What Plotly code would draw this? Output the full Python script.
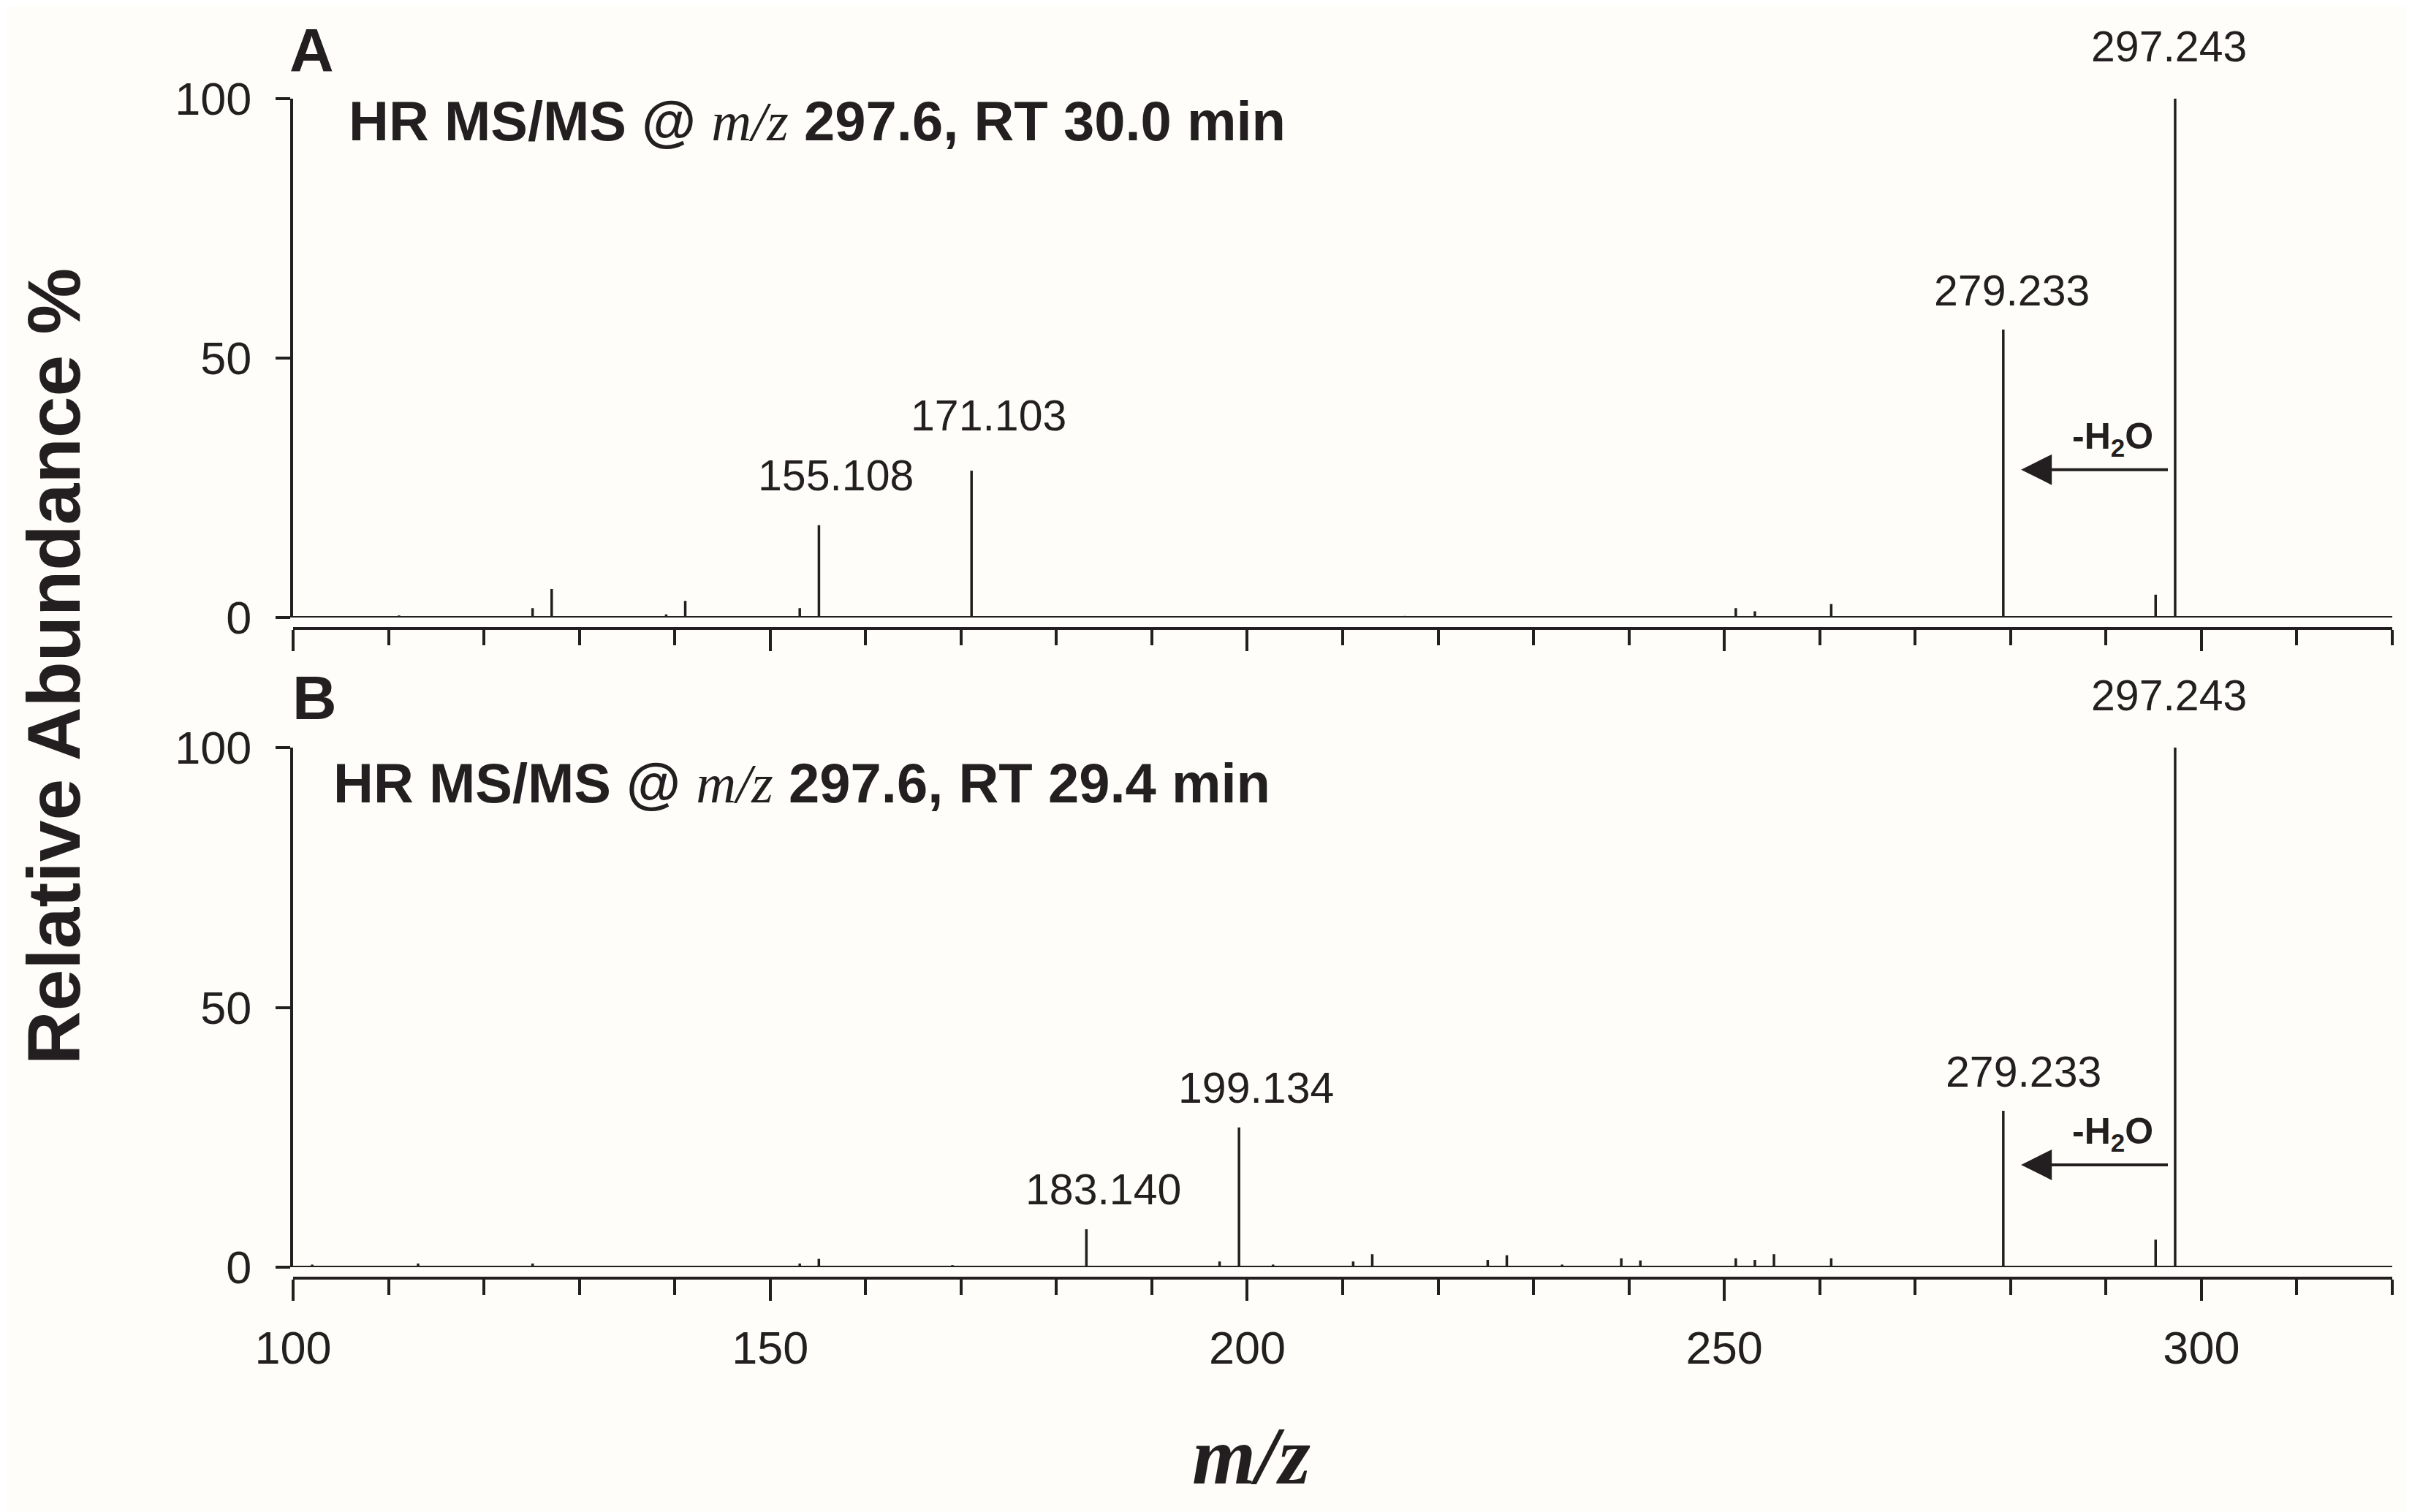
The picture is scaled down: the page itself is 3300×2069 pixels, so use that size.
import plotly.graph_objects as go

# panel A: HR MS/MS @ m/z 297.6, RT 30.0 min
mz_a = [111.1, 125.1, 127.1, 139.1, 141.1, 153.1, 155.108, 171.103, 216.5,
        251.2, 253.2, 261.2, 279.233, 295.2, 297.243]
int_a = [0.4, 1.8, 5.5, 0.6, 3.2, 1.8, 17.8, 28.3, 0.3,
         1.8, 1.2, 2.6, 55.5, 4.4, 100.0]
labels_a = ["155.108", "171.103", "279.233", "297.243"]

# panel B: HR MS/MS @ m/z 297.6, RT 29.4 min
mz_b = [102.0, 113.1, 125.1, 153.1, 155.1, 169.1, 183.140, 197.1, 199.134,
        202.7, 211.1, 213.1, 225.2, 227.2, 233.0, 239.2, 241.2, 251.2, 253.2,
        255.2, 261.2, 279.233, 295.2, 297.243]
int_b = [0.5, 0.7, 0.7, 0.7, 1.6, 0.4, 7.3, 1.1, 26.9,
         0.5, 1.1, 2.5, 1.4, 2.3, 0.5, 1.7, 1.3, 1.7, 1.4,
         2.5, 1.7, 30.1, 5.3, 100.0]
labels_b = ["183.140", "199.134", "279.233", "297.243"]

titles = ["RT 30.0 min", "RT 29.4 min"]
x_range = [100, 320]
y_ticks = [0, 50, 100]

W, H = 3300, 2069
OFF = 8  # the page body margin pushes the figure 8px right and down
INK = "#231f20"
SANS = "Liberation Sans, Arial, sans-serif"
SERIF = "Liberation Serif, Times New Roman, serif"


def px(x):
    return (x - OFF) / W


def py(y):
    return 1 - (y - OFF) / H


def sticks(mz, inten):
    xs, ys = [], []
    for m, v in zip(mz, inten):
        xs += [m, m, None]
        ys += [0, v, None]
    return xs, ys


fig = go.Figure()
for i, (mz, inten) in enumerate([(mz_a, int_a), (mz_b, int_b)]):
    xs, ys = sticks(mz, inten)
    sfx = "" if i == 0 else "2"
    fig.add_trace(go.Scatter(x=xs, y=ys, mode="lines", xaxis="x" + sfx, yaxis="y" + sfx,
                             line=dict(color=INK, width=3.5), showlegend=False,
                             hoverinfo="skip"))

xdom = [px(401), px(3273)]
panels = [
    dict(top=135, zero=845, axis=860),
    dict(top=1023, zero=1734, axis=1749),
]

axis_common = dict(showgrid=False, zeroline=False, showline=True, linecolor=INK,
                   tickcolor=INK, ticks="outside", automargin=False)
for i, p in enumerate(panels):
    sfx = "" if i == 0 else "2"
    fig.update_layout(**{
        "xaxis" + sfx: dict(
            axis_common, domain=xdom, range=x_range, anchor="free",
            position=py(p["axis"]), linewidth=4, ticklen=29, tickwidth=3.5,
            tick0=100, dtick=50, showticklabels=(i == 1),
            tickfont=dict(family=SANS, size=63, color=INK), ticklabelstandoff=10,
            minor=dict(ticks="outside", dtick=10, ticklen=21, tickwidth=3.5, tickcolor=INK),
        ),
        "yaxis" + sfx: dict(
            axis_common, domain=[py(p["zero"]), py(p["top"])], range=[0, 100],
            anchor="x" + sfx, linewidth=4, ticklen=20, tickwidth=3.5,
            tickvals=y_ticks, tickfont=dict(family=SANS, size=63, color=INK),
            ticklabelstandoff=20,
        ),
    })
    # baseline at zero
    fig.add_shape(type="line", xref="x" + sfx + " domain", yref="y" + sfx,
                  x0=0, x1=1, y0=0, y1=0, line=dict(color=INK, width=4))

annotations = []
# peak labels
for i, (mz, inten, labels) in enumerate([(mz_a, int_a, labels_a), (mz_b, int_b, labels_b)]):
    sfx = "" if i == 0 else "2"
    for lab in labels:
        m = float(lab)
        v = inten[mz.index(m)]
        if lab == "297.243":
            xshift = -8
        elif lab == "279.233":
            xshift = 12 if i == 0 else 28
        else:
            xshift = 23
        gap = {"297.243": 36, "279.233": 18, "155.108": 33, "171.103": 40}.get(lab, 19)
        annotations.append(dict(
            x=m, y=v, xref="x" + sfx, yref="y" + sfx, text=lab, showarrow=False,
            xanchor="center", yanchor="bottom", xshift=xshift, yshift=gap,
            font=dict(family=SANS, size=59, color=INK)))

    # water loss arrow from precursor to fragment
    arrow_y = 28.5 if i == 0 else 19.7
    annotations.append(dict(
        x=281.1, y=arrow_y, ax=296.6, ay=arrow_y, xref="x" + sfx, yref="y" + sfx,
        axref="x" + sfx, ayref="y" + sfx, text="", showarrow=True, arrowhead=2,
        arrowsize=2.1, arrowwidth=4, arrowcolor=INK, standoff=0, startstandoff=0))
    annotations.append(dict(
        x=290.7, y=arrow_y + 6.0, xref="x" + sfx, yref="y" + sfx,
        text="-H<sub>2</sub>O", showarrow=False, xanchor="center", yanchor="middle",
        font=dict(family=SANS, size=50, color=INK, weight="bold")))

# panel letters and headers
for letter, lx, ly in [("A", 394, 69), ("B", 398, 955)]:
    annotations.append(dict(x=px(lx), y=py(ly), xref="paper", yref="paper", text=letter,
                            showarrow=False, xanchor="left", yanchor="middle",
                            font=dict(family=SANS, size=84, color=INK, weight="bold")))
for title, tx, ty in [(titles[0], 475, 166), (titles[1], 454, 1072)]:
    text = ("HR MS/MS @ <span style='font-family:" + SERIF + ";font-weight:normal'>"
            "<i>m/z</i></span> 297.6, " + title)
    annotations.append(dict(x=px(tx), y=py(ty), xref="paper", yref="paper", text=text,
                            showarrow=False, xanchor="left", yanchor="middle",
                            font=dict(family=SANS, size=76, color=INK, weight="bold")))

# shared axis titles
annotations.append(dict(x=px(74), y=py(912), xref="paper", yref="paper",
                        text="Relative Abundance %", textangle=-90, showarrow=False,
                        xanchor="center", yanchor="middle",
                        font=dict(family=SANS, size=102, color=INK, weight="bold")))
annotations.append(dict(x=px(1712), y=py(1992), xref="paper", yref="paper",
                        text="<i>m/z</i>", showarrow=False, xanchor="center", yanchor="middle",
                        font=dict(family=SERIF, size=112, color=INK, weight="bold")))

fig.update_layout(
    width=W, height=H,
    margin=dict(l=0, r=0, t=0, b=0),
    paper_bgcolor="#fefdf9", plot_bgcolor="#fefdf9",
    annotations=annotations,
    showlegend=False,
)

fig.write_html("out.html")
